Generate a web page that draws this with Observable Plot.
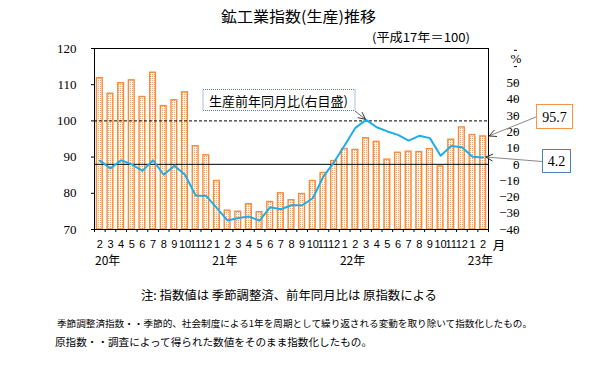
<!DOCTYPE html>
<html>
<head>
<meta charset="utf-8">
<script src="https://cdn.jsdelivr.net/npm/d3@7"></script>
<script src="https://cdn.jsdelivr.net/npm/@observablehq/plot@0.6"></script>
<style>
  body { margin: 0; background: #fff; }
  #wrap { position: relative; width: 594px; height: 381px; background: #fff; }
  #wrap svg { position: absolute; left: 0; top: 0; }
</style>
</head>
<body>
<div id="wrap"></div>
<script>
// ---- data ----
const months = ["2","3","4","5","6","7","8","9","10","11","12",
                "1","2","3","4","5","6","7","8","9","10","11","12",
                "1","2","3","4","5","6","7","8","9","10","11","12",
                "1","2"];
const years = [{i: 0, label: "20年"}, {i: 11, label: "21年"}, {i: 23, label: "22年"}, {i: 35, label: "23年"}];
// 生産指数 (季節調整済, 平成17年=100) — left axis
const production = [111.8,107.5,110.4,111.2,106.6,113.3,104.1,105.7,107.9,93.0,90.5,
                    83.4,75.2,74.9,77.0,74.8,77.6,80.0,78.1,79.8,83.4,85.6,88.9,
                    92.2,92.0,95.2,94.2,89.3,91.2,91.5,91.4,92.2,87.4,94.8,98.2,
                    96.1,95.7];
// 生産前年同月比 (%) — right axis
const yoy = [2.3,-2.5,2.5,0.0,-4.0,2.5,-6.4,-0.8,-6.4,-19.1,-19.5,
             -26.9,-34.5,-33.0,-32.0,-34.6,-26.3,-27.6,-25.1,-25.1,-20.8,-7.4,1.4,
             11.7,22.4,27.3,22.8,20.2,18.1,14.6,17.5,16.1,5.3,11.3,10.5,
             4.7,4.2];
const leftTicks = [70, 80, 90, 100, 110, 120];
const rightTicks = [-40, -30, -20, -10, 0, 10, 20, 30, 40, 50, 60, 70];
const rightLabelMax = 50;
const baseLine = 100;     // 平成17年=100 (dashed)
const lastProdLabel = "95.7";
const lastYoyLabel = "4.2";

// ---- right axis mapping onto left scale: right 0 ↔ left 88, right -40 ↔ left 70 ----
const k = 18 / 40;
const R = v => 88 + v * k;
const Rinv = y => Math.round((y - 88) / k);

const data = months.map((m, i) => ({i, m, prod: production[i], yoy: yoy[i]}));
const boundaries = d3.range(-0.5, months.length, 1);

const serif = "'Liberation Serif', 'DejaVu Serif', serif";
const sans = "'Liberation Sans', 'DejaVu Sans', sans-serif";
const jp = "'Noto Sans CJK JP', 'Noto Sans', sans-serif";

const chart = Plot.plot({
  width: 594, height: 381,
  marginTop: 48, marginBottom: 152, marginLeft: 94, marginRight: 106,
  x: {domain: [-0.5, months.length - 0.5], axis: null},
  y: {domain: [70, 120], axis: null},
  style: {fontFamily: jp, background: "transparent", color: "black"},
  marks: [
    Plot.rectY(data, {x1: d => d.i - 0.27, x2: d => d.i + 0.27, y1: 70, y2: "prod",
      fill: "url(#dots)", stroke: "#f58b3c", strokeWidth: 1.4}),
    Plot.ruleY([baseLine], {stroke: "black", strokeWidth: 1, strokeDasharray: "3,2"}),
    Plot.ruleY([R(0)], {stroke: "black", strokeWidth: 1}),
    Plot.line(data, {x: "i", y: d => R(d.yoy), stroke: "#1eaee6", strokeWidth: 2}),
    Plot.frame({stroke: "black", strokeWidth: 1}),
    Plot.axisY({anchor: "left", label: null, ticks: leftTicks, tickSize: 3, tickPadding: 15,
      tickFormat: d => String(d), fontSize: 13, fontFamily: serif}),
    Plot.axisY({anchor: "right", label: null, ticks: rightTicks.map(R), tickSize: 3, tickPadding: 3,
      textAnchor: "end", dx: 25, fontSize: 13, fontFamily: serif,
      tickFormat: y => { const v = Rinv(y); return v > rightLabelMax ? "" : (v < 0 ? "−" + Math.abs(v) : String(v)); }}),
    Plot.axisX({label: null, ticks: boundaries, tickSize: 3, tickFormat: () => ""}),
    Plot.axisX({label: null, ticks: d3.range(months.length), tickSize: 0, tickPadding: 11,
      tickFormat: i => months[i], fontSize: 11, fontFamily: sans, ariaLabel: "month-labels"}),
    Plot.text(years, {x: d => d.i - 0.45, text: "label", frameAnchor: "bottom",
      textAnchor: "start", lineAnchor: "top", dy: 27, fontSize: 12, fontFamily: jp}),
    Plot.text(["月"], {x: () => months.length - 0.1, text: d => d, frameAnchor: "bottom",
      textAnchor: "start", lineAnchor: "top", dy: 12, fontSize: 12.5, fontFamily: jp})
  ]
});

// dotted pattern for bar fill
const svg = d3.select(chart);
const pat = svg.insert("defs", ":first-child").append("pattern")
  .attr("id", "dots").attr("width", 2).attr("height", 2).attr("patternUnits", "userSpaceOnUse");
pat.append("rect").attr("width", 2).attr("height", 2).attr("fill", "#fffaf5");
pat.append("rect").attr("width", 1).attr("height", 1).attr("fill", "#f7a566");

// squeeze two-digit month labels into their band, as in the reference
svg.selectAll("g[aria-label='month-labels'] text").each(function () {
  const t = d3.select(this);
  if (t.text().length > 1) t.attr("textLength", 10).attr("lengthAdjust", "spacingAndGlyphs");
});

const wrap = document.getElementById("wrap");
wrap.appendChild(chart);

// ---- overlay: titles, notes, annotation boxes and arrows ----
const xs = chart.scale("x"), ys = chart.scale("y");
const ov = d3.select(wrap).append("svg").attr("width", 594).attr("height", 381)
  .style("pointer-events", "none");

function txt(s, x, y, size, opts = {}) {
  const t = ov.append("text").attr("x", x).attr("y", y).text(s)
    .attr("font-family", opts.family || jp).attr("font-size", size)
    .attr("dominant-baseline", "central").attr("text-anchor", opts.anchor || "start")
    .attr("fill", "black");
  if (opts.len) t.attr("textLength", opts.len).attr("lengthAdjust", "spacingAndGlyphs");
  return t;
}
function arrow(x1, y1, x2, y2, color) {
  ov.append("line").attr("x1", x1).attr("y1", y1).attr("x2", x2).attr("y2", y2)
    .attr("stroke", color).attr("stroke-width", 1);
  const a = Math.atan2(y1 - y2, x1 - x2), L = 8, w = 0.45;
  [a - w, a + w].forEach(b => ov.append("line").attr("x1", x2).attr("y1", y2)
    .attr("x2", x2 + L * Math.cos(b)).attr("y2", y2 + L * Math.sin(b))
    .attr("stroke", "#333").attr("stroke-width", 1));
}

txt("鉱工業指数(生産)推移", 221, 15, 15, {len: 155});
txt("(平成17年＝100)", 372, 36, 12, {len: 98});
txt("%", 516, 58, 13, {anchor: "middle", family: serif});

// legend callout for the line
ov.append("rect").attr("x", 203).attr("y", 89.5).attr("width", 152).attr("height", 21)
  .attr("fill", "white").attr("stroke", "#4f81bd").attr("stroke-dasharray", "1,1");
txt("生産前年同月比(右目盛)", 209, 100, 13, {len: 139});
const pk = d3.maxIndex(yoy);
arrow(355, 111, xs.apply(pk), ys.apply(R(yoy[pk])), "#666");

// last bar value
const last = months.length - 1;
ov.append("rect").attr("x", 536.5).attr("y", 104.5).attr("width", 36).attr("height", 24)
  .attr("fill", "white").attr("stroke", "#f79646");
txt(lastProdLabel, 554.5, 117, 14, {anchor: "middle", family: serif});
arrow(536, 117, xs.apply(last + 0.5) + 1, ys.apply(production[last]), "#888");

// last line value
ov.append("rect").attr("x", 542.5).attr("y", 149.5).attr("width", 28).attr("height", 23)
  .attr("fill", "white").attr("stroke", "#4f81bd");
txt(lastYoyLabel, 556.5, 161.5, 14, {anchor: "middle", family: serif});
arrow(542, 161.5, xs.apply(last) + 3, ys.apply(R(yoy[last])), "#888");

// notes
txt("注: 指数値は 季節調整済、前年同月比は 原指数による", 141, 294, 12, {len: 296});
txt("季節調整済指数・・季節的、社会制度による1年を周期として繰り返される変動を取り除いて指数化したもの。", 57, 323, 9.5, {len: 475});
txt("原指数・・調査によって得られた数値をそのまま指数化したもの。", 55, 341.5, 10, {len: 317});
</script>
</body>
</html>
